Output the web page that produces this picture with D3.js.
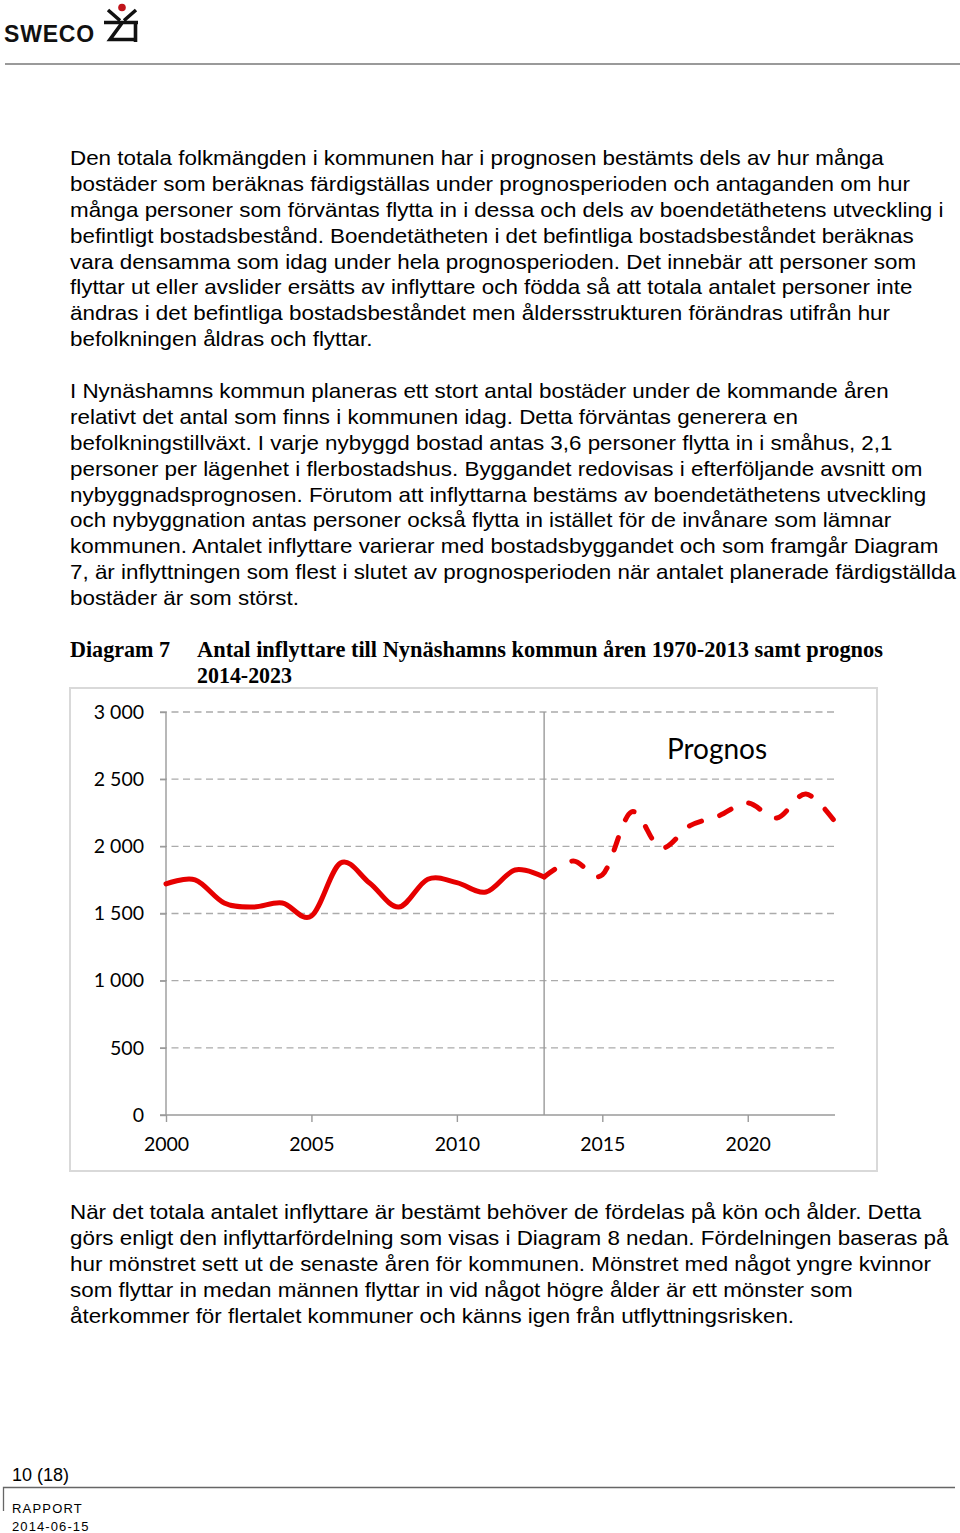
<!DOCTYPE html>
<html>
<head>
<meta charset="utf-8">
<script src="https://cdn.jsdelivr.net/npm/d3@7"></script>
<style>
  html, body { margin: 0; padding: 0; background: #fff; }
  svg { display: block; }
  .body-text { font-family: "Liberation Sans", Arial, sans-serif; font-size: 20px; fill: #000; }
  .chart-text { font-family: Lato, "Open Sans", sans-serif; fill: #000; }
</style>
</head>
<body>
<svg id="page" width="960" height="1533"></svg>
<script>
// ---------------- data ----------------
const observedYears = [2000, 2001, 2002, 2003, 2004, 2005, 2006, 2007, 2008, 2009, 2010, 2011, 2012, 2013];
const observedValues = [1720, 1750, 1578, 1548, 1578, 1481, 1876, 1727, 1548, 1755, 1730, 1660, 1824, 1772];
const prognosYears = [2013, 2014, 2015, 2016, 2017, 2018, 2019, 2020, 2021, 2022, 2023];
const prognosValues = [1772, 1891, 1787, 2256, 1988, 2152, 2226, 2323, 2211, 2390, 2182];
const yTicks = [0, 500, 1000, 1500, 2000, 2500, 3000];
const xTicks = [2000, 2005, 2010, 2015, 2020];
const dividerYear = 2013;
const annotation = "Prognos";

const para1 = [
  "Den totala folkmängden i kommunen har i prognosen bestämts dels av hur många",
  "bostäder som beräknas färdigställas under prognosperioden och antaganden om hur",
  "många personer som förväntas flytta in i dessa och dels av boendetäthetens utveckling i",
  "befintligt bostadsbestånd. Boendetätheten i det befintliga bostadsbeståndet beräknas",
  "vara densamma som idag under hela prognosperioden. Det innebär att personer som",
  "flyttar ut eller avslider ersätts av inflyttare och födda så att totala antalet personer inte",
  "ändras i det befintliga bostadsbeståndet men åldersstrukturen förändras utifrån hur",
  "befolkningen åldras och flyttar."
];
const para2 = [
  "I Nynäshamns kommun planeras ett stort antal bostäder under de kommande åren",
  "relativt det antal som finns i kommunen idag. Detta förväntas generera en",
  "befolkningstillväxt. I varje nybyggd bostad antas 3,6 personer flytta in i småhus, 2,1",
  "personer per lägenhet i flerbostadshus. Byggandet redovisas i efterföljande avsnitt om",
  "nybyggnadsprognosen. Förutom att inflyttarna bestäms av boendetäthetens utveckling",
  "och nybyggnation antas personer också flytta in istället för de invånare som lämnar",
  "kommunen. Antalet inflyttare varierar med bostadsbyggandet och som framgår Diagram",
  "7, är inflyttningen som flest i slutet av prognosperioden när antalet planerade färdigställda",
  "bostäder är som störst."
];
const para3 = [
  "När det totala antalet inflyttare är bestämt behöver de fördelas på kön och ålder. Detta",
  "görs enligt den inflyttarfördelning som visas i Diagram 8 nedan. Fördelningen baseras på",
  "hur mönstret sett ut de senaste åren för kommunen. Mönstret med något yngre kvinnor",
  "som flyttar in medan männen flyttar in vid något högre ålder är ett mönster som",
  "återkommer för flertalet kommuner och känns igen från utflyttningsrisken."
];

// ---------------- page ----------------
const svg = d3.select("#page");

// header logo
const logo = svg.append("g");
logo.append("text").attr("x", 4).attr("y", 42)
  .attr("font-family", "Liberation Sans, Arial, sans-serif")
  .attr("font-weight", "bold").attr("font-size", 23).attr("letter-spacing", 0.8)
  .attr("fill", "#111").text("SWECO");
logo.append("circle").attr("cx", 122).attr("cy", 7.5).attr("r", 3.8).attr("fill", "#c0141b");
logo.append("path")
  .attr("d", "M108,10 L120,20.5 M136,10 L124,20.5 M104,22.5 L138,22.5 M122,23 L110,39.5 L136,39.5 M135.5,24 L135.5,42")
  .attr("stroke", "#111").attr("stroke-width", 3.6).attr("fill", "none");
svg.append("line").attr("x1", 5).attr("x2", 960).attr("y1", 64).attr("y2", 64)
  .attr("stroke", "#9a9a9a").attr("stroke-width", 2);

// paragraphs (the source page is rendered slightly wider than plain Arial)
function paragraph(lines, y0) {
  svg.append("g").attr("transform", "translate(70,0) scale(1.12,1)")
    .selectAll("text").data(lines).join("text")
    .attr("class", "body-text")
    .attr("x", 0)
    .attr("y", (d, i) => y0 + i * 25.9)
    .text(d => d);
}
paragraph(para1, 165);
paragraph(para2, 398);
paragraph(para3, 1219);

// title
const titleFont = "Liberation Serif, Times New Roman, serif";
svg.append("text").attr("x", 70).attr("y", 657).attr("font-family", titleFont)
  .attr("font-weight", "bold").attr("font-size", 22.5).attr("textLength", 100)
  .attr("lengthAdjust", "spacingAndGlyphs").text("Diagram 7");
svg.append("text").attr("x", 197).attr("y", 657).attr("font-family", titleFont)
  .attr("font-weight", "bold").attr("font-size", 22.5).attr("textLength", 686)
  .attr("lengthAdjust", "spacingAndGlyphs")
  .text("Antal inflyttare till Nynäshamns kommun åren 1970-2013 samt prognos");
svg.append("text").attr("x", 197).attr("y", 683).attr("font-family", titleFont)
  .attr("font-weight", "bold").attr("font-size", 22.5).attr("textLength", 95)
  .attr("lengthAdjust", "spacingAndGlyphs").text("2014-2023");

// ---------------- chart ----------------
svg.append("rect").attr("x", 70).attr("y", 688).attr("width", 807).attr("height", 483)
  .attr("fill", "#fff").attr("stroke", "#d9d9d9").attr("stroke-width", 2);

const x = d3.scaleLinear().domain([2000, 2023]).range([166, 835]);
const y = d3.scaleLinear().domain([0, 3000]).range([1115, 712]);
const chart = svg.append("g");

// gridlines
chart.append("g").selectAll("line").data(yTicks.filter(d => d > 0)).join("line")
  .attr("x1", 160).attr("x2", x(2023))
  .attr("y1", d => y(d)).attr("y2", d => y(d))
  .attr("stroke", "#ababab").attr("stroke-width", 1.4).attr("stroke-dasharray", "7,4.5");

// y axis
const yAxis = chart.append("g").attr("transform", `translate(${x(2000)},0)`)
  .call(d3.axisLeft(y).tickValues(yTicks).tickSize(6).tickPadding(16)
    .tickFormat(d => d3.format(",")(d).replace(/,/g, " ")));
yAxis.select(".domain").attr("stroke", "#9a9a9a").attr("stroke-width", 1.4)
  .attr("d", `M0,${y(0)}V${y(3000)}`);
yAxis.selectAll(".tick line").attr("stroke", "#9a9a9a").attr("stroke-width", 1.4);
yAxis.selectAll(".tick text").attr("class", "chart-text").attr("font-size", 19.5)
  .attr("fill", "#000").attr("font-family", "Lato, sans-serif");

// x axis
const xAxis = chart.append("g").attr("transform", `translate(0,${y(0)})`)
  .call(d3.axisBottom(x).tickValues(xTicks).tickSize(7).tickPadding(15).tickFormat(d3.format("d")));
xAxis.select(".domain").attr("stroke", "#9a9a9a").attr("stroke-width", 1.4)
  .attr("d", `M160,0H${x(2023)}`);
xAxis.selectAll(".tick line").attr("stroke", "#9a9a9a").attr("stroke-width", 1.4);
xAxis.selectAll(".tick text").attr("font-size", 19.5).attr("fill", "#000")
  .attr("font-family", "Lato, sans-serif");

// divider at 2013
chart.append("line").attr("x1", x(dividerYear)).attr("x2", x(dividerYear))
  .attr("y1", y(3000)).attr("y2", y(0))
  .attr("stroke", "#9a9a9a").attr("stroke-width", 1.4);

// annotation
chart.append("text").attr("class", "chart-text").attr("x", 717).attr("y", 759)
  .attr("text-anchor", "middle").attr("font-size", 28).text(annotation);

// lines
const line = d3.line().x(d => x(d[0])).y(d => y(d[1])).curve(d3.curveCardinal.tension(0));
chart.append("path").datum(d3.zip(observedYears, observedValues))
  .attr("d", line).attr("fill", "none").attr("stroke", "#e60000")
  .attr("stroke-width", 5).attr("stroke-linejoin", "round").attr("stroke-linecap", "round");
chart.append("path").datum(d3.zip(prognosYears, prognosValues))
  .attr("d", line).attr("fill", "none").attr("stroke", "#e60000")
  .attr("stroke-width", 5).attr("stroke-linecap", "round").attr("stroke-dasharray", "13,19");

// ---------------- footer ----------------
svg.append("text").attr("x", 12).attr("y", 1481)
  .attr("font-family", "Liberation Sans, Arial, sans-serif").attr("font-size", 18)
  .attr("fill", "#000").text("10 (18)");
svg.append("path").attr("d", "M3.5,1511V1487.5H955")
  .attr("stroke", "#666").attr("stroke-width", 1.3).attr("fill", "none");
svg.append("text").attr("x", 12).attr("y", 1513)
  .attr("font-family", "Liberation Sans, Arial, sans-serif").attr("font-size", 13)
  .attr("letter-spacing", 1.2).attr("fill", "#000").text("RAPPORT");
svg.append("text").attr("x", 12).attr("y", 1531)
  .attr("font-family", "Liberation Sans, Arial, sans-serif").attr("font-size", 13)
  .attr("letter-spacing", 1.1).attr("fill", "#000").text("2014-06-15");
</script>
</body>
</html>
